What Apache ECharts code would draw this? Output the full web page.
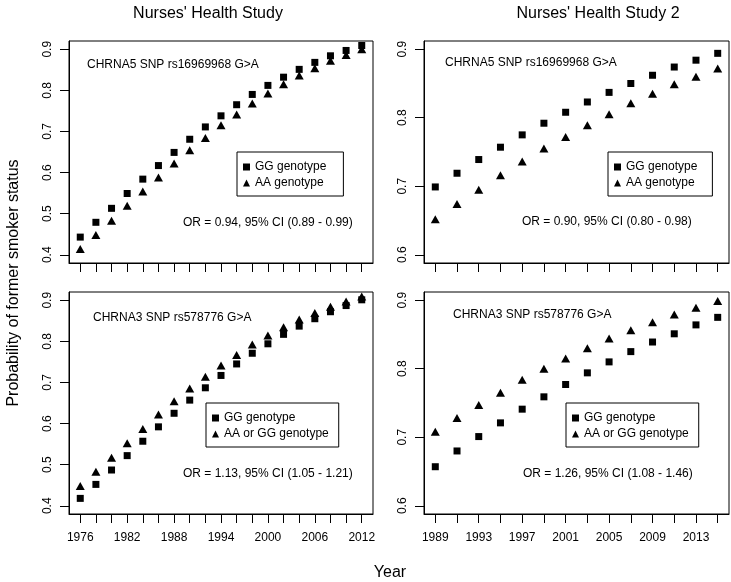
<!DOCTYPE html>
<html>
<head>
<meta charset="utf-8">
<script src="https://cdn.jsdelivr.net/npm/echarts@6/dist/echarts.min.js"></script>
<style>html,body{margin:0;padding:0;background:#fff}#c{width:731px;height:582px}</style>
</head>
<body>
<div id="c"></div>
<script>
// ---- data ----
const nhsYears = [1976,1978,1980,1982,1984,1986,1988,1990,1992,1994,1996,1998,2000,2002,2004,2006,2008,2010,2012];
const nhs2Years = [1989,1991,1993,1995,1997,1999,2001,2003,2005,2007,2009,2011,2013,2015];
const nhsYearLabels = [1976,1982,1988,1994,2000,2006,2012];
const nhs2YearLabels = [1989,1993,1997,2001,2005,2009,2013];
const nhsProbTicks = [0.4,0.5,0.6,0.7,0.8,0.9];
const nhs2ProbTicks = [0.6,0.7,0.8,0.9];

// Nurses' Health Study, CHRNA5
const nhsA5GG = [0.443,0.479,0.513,0.549,0.584,0.617,0.649,0.681,0.711,0.738,0.765,0.790,0.812,0.832,0.851,0.868,0.884,0.897,0.909];
const nhsA5AA = [0.414,0.448,0.483,0.519,0.554,0.588,0.622,0.654,0.684,0.715,0.741,0.768,0.792,0.815,0.836,0.854,0.872,0.886,0.900];
// Nurses' Health Study 2, CHRNA5
const nhs2A5GG = [0.699,0.719,0.739,0.757,0.775,0.792,0.808,0.823,0.837,0.850,0.862,0.874,0.884,0.894];
const nhs2A5AA = [0.652,0.674,0.695,0.716,0.736,0.755,0.772,0.789,0.805,0.821,0.835,0.849,0.860,0.872];
// Nurses' Health Study, CHRNA3
const nhsA3GG = [0.418,0.452,0.487,0.522,0.557,0.592,0.625,0.657,0.687,0.717,0.745,0.771,0.794,0.817,0.837,0.855,0.872,0.887,0.901];
const nhsA3AAGG = [0.448,0.483,0.517,0.552,0.587,0.622,0.654,0.685,0.714,0.741,0.767,0.792,0.814,0.834,0.853,0.869,0.884,0.897,0.909];
// Nurses' Health Study 2, CHRNA3
const nhs2A3GG = [0.657,0.680,0.701,0.721,0.741,0.759,0.777,0.794,0.810,0.825,0.839,0.851,0.864,0.875];
const nhs2A3AAGG = [0.708,0.728,0.747,0.765,0.784,0.800,0.815,0.830,0.844,0.856,0.868,0.879,0.889,0.899];

const titles = ["Nurses' Health Study", "Nurses' Health Study 2"];
const snpLabels = ["CHRNA5 SNP rs16969968 G>A", "CHRNA3 SNP rs578776 G>A"];
const orLabels = ["OR = 0.94, 95% CI (0.89 - 0.99)", "OR = 0.90, 95% CI (0.80 - 0.98)",
                  "OR = 1.13, 95% CI (1.05 - 1.21)", "OR = 1.26, 95% CI (1.08 - 1.46)"];
const seriesNames = ["GG genotype", "AA genotype", "AA or GG genotype"];

// ---- chart ----
const FONT = "'Liberation Sans', Arial, sans-serif";
const chart = echarts.init(document.getElementById('c'), null, {renderer: 'canvas'});

const grids = [
  {left: 69, top: 41, width: 304, height: 222},
  {left: 424, top: 41, width: 305, height: 222},
  {left: 69, top: 292, width: 304, height: 222},
  {left: 424, top: 292, width: 305, height: 222}
].map(g => Object.assign(g, {show: true, borderColor: '#000', borderWidth: 1, backgroundColor: 'transparent', containLabel: false}));

function xAx(i, years, labels, lo, hi, showLabels) {
  return {
    type: 'value', gridIndex: i, min: lo, max: hi,
    splitLine: {show: false},
    axisLine: {show: true, lineStyle: {color: '#000', width: 1}},
    axisTick: {show: true, customValues: years, length: 9, lineStyle: {color: '#000', width: 1}},
    axisLabel: {show: showLabels, customValues: labels, margin: 18, fontSize: 12, color: '#000', fontFamily: FONT,
                formatter: v => String(v)}
  };
}
function yAx(i, ticks, lo, hi) {
  return {
    type: 'value', gridIndex: i, min: lo, max: hi,
    splitLine: {show: false},
    axisLine: {show: true, lineStyle: {color: '#000', width: 1}},
    axisTick: {show: true, customValues: ticks, length: 9, lineStyle: {color: '#000', width: 1}},
    axisLabel: {show: true, customValues: ticks, rotate: 90, margin: 15, fontSize: 12, color: '#000', fontFamily: FONT,
                formatter: v => v.toFixed(1)}
  };
}

const nhsXMin = 1974.56, nhsXMax = 2013.44, nhs2XMin = 1987.96, nhs2XMax = 2016.04;
const xAxes = [
  xAx(0, nhsYears, nhsYearLabels, nhsXMin, nhsXMax, false),
  xAx(1, nhs2Years, nhs2YearLabels, nhs2XMin, nhs2XMax, false),
  xAx(2, nhsYears, nhsYearLabels, nhsXMin, nhsXMax, true),
  xAx(3, nhs2Years, nhs2YearLabels, nhs2XMin, nhs2XMax, true)
];
const yAxes = [
  yAx(0, nhsProbTicks, 0.38, 0.92),
  yAx(1, nhs2ProbTicks, 0.588, 0.912),
  yAx(2, nhsProbTicks, 0.38, 0.92),
  yAx(3, nhs2ProbTicks, 0.588, 0.912)
];

function sc(name, idx, years, vals, shape) {
  return {
    type: 'scatter', name: name, xAxisIndex: idx, yAxisIndex: idx,
    data: years.map((y, k) => [y, vals[k]]),
    symbol: shape === 'sq' ? 'rect' : 'triangle',
    symbolSize: shape === 'sq' ? 7 : [9, 8],
    itemStyle: {color: '#000', opacity: 1},
    emphasis: {disabled: true},
    silent: true
  };
}
const series = [
  sc(seriesNames[0], 0, nhsYears, nhsA5GG, 'sq'),
  sc(seriesNames[1], 0, nhsYears, nhsA5AA, 'tri'),
  sc(seriesNames[0], 1, nhs2Years, nhs2A5GG, 'sq'),
  sc(seriesNames[1], 1, nhs2Years, nhs2A5AA, 'tri'),
  sc(seriesNames[0], 2, nhsYears, nhsA3GG, 'sq'),
  sc(seriesNames[2], 2, nhsYears, nhsA3AAGG, 'tri'),
  sc(seriesNames[0], 3, nhs2Years, nhs2A3GG, 'sq'),
  sc(seriesNames[2], 3, nhs2Years, nhs2A3AAGG, 'tri')
];

function lg(names, left, top, padRight) {
  return {
    data: names, left: left, top: top, orient: 'vertical',
    itemWidth: 7, itemHeight: 7, itemGap: 2,
    padding: [8, padRight, 6, 6],
    borderColor: '#000', borderWidth: 1, borderRadius: 0,
    selectedMode: false,
    itemStyle: {opacity: 1},
    textStyle: {fontSize: 12, color: '#000', fontFamily: FONT, lineHeight: 14}
  };
}
const legends = [
  lg([seriesNames[0], seriesNames[1]], 237, 152, 17),
  lg([seriesNames[0], seriesNames[1]], 608, 152, 15),
  lg([seriesNames[0], seriesNames[2]], 206, 403, 10),
  lg([seriesNames[0], seriesNames[2]], 566, 403, 10)
];

function txt(s, x, y, size, align, rot) {
  return {type: 'text', x: x, y: y, rotation: rot || 0, silent: true,
          style: {text: s, fill: '#000', font: size + 'px ' + FONT, textAlign: align || 'left', textVerticalAlign: 'middle'}};
}
const graphics = [
  txt(titles[0], 208, 14, 16, 'center'),
  txt(titles[1], 598, 14, 16, 'center'),
  txt(snpLabels[0], 87, 65, 12),
  txt(snpLabels[0], 445, 63, 12),
  txt(snpLabels[1], 93, 318, 12),
  txt(snpLabels[1], 453, 315, 12),
  txt(orLabels[0], 183, 223, 12),
  txt(orLabels[1], 522, 222, 12),
  txt(orLabels[2], 183, 474, 12),
  txt(orLabels[3], 523, 474, 12),
  txt('Year', 390, 573, 16, 'center'),
  txt('Probability of former smoker status', 14, 283, 16, 'center', Math.PI / 2)
];

chart.setOption({
  animation: false,
  backgroundColor: '#fff',
  grid: grids,
  xAxis: xAxes,
  yAxis: yAxes,
  legend: legends,
  series: series,
  graphic: graphics
});
</script>
</body>
</html>
